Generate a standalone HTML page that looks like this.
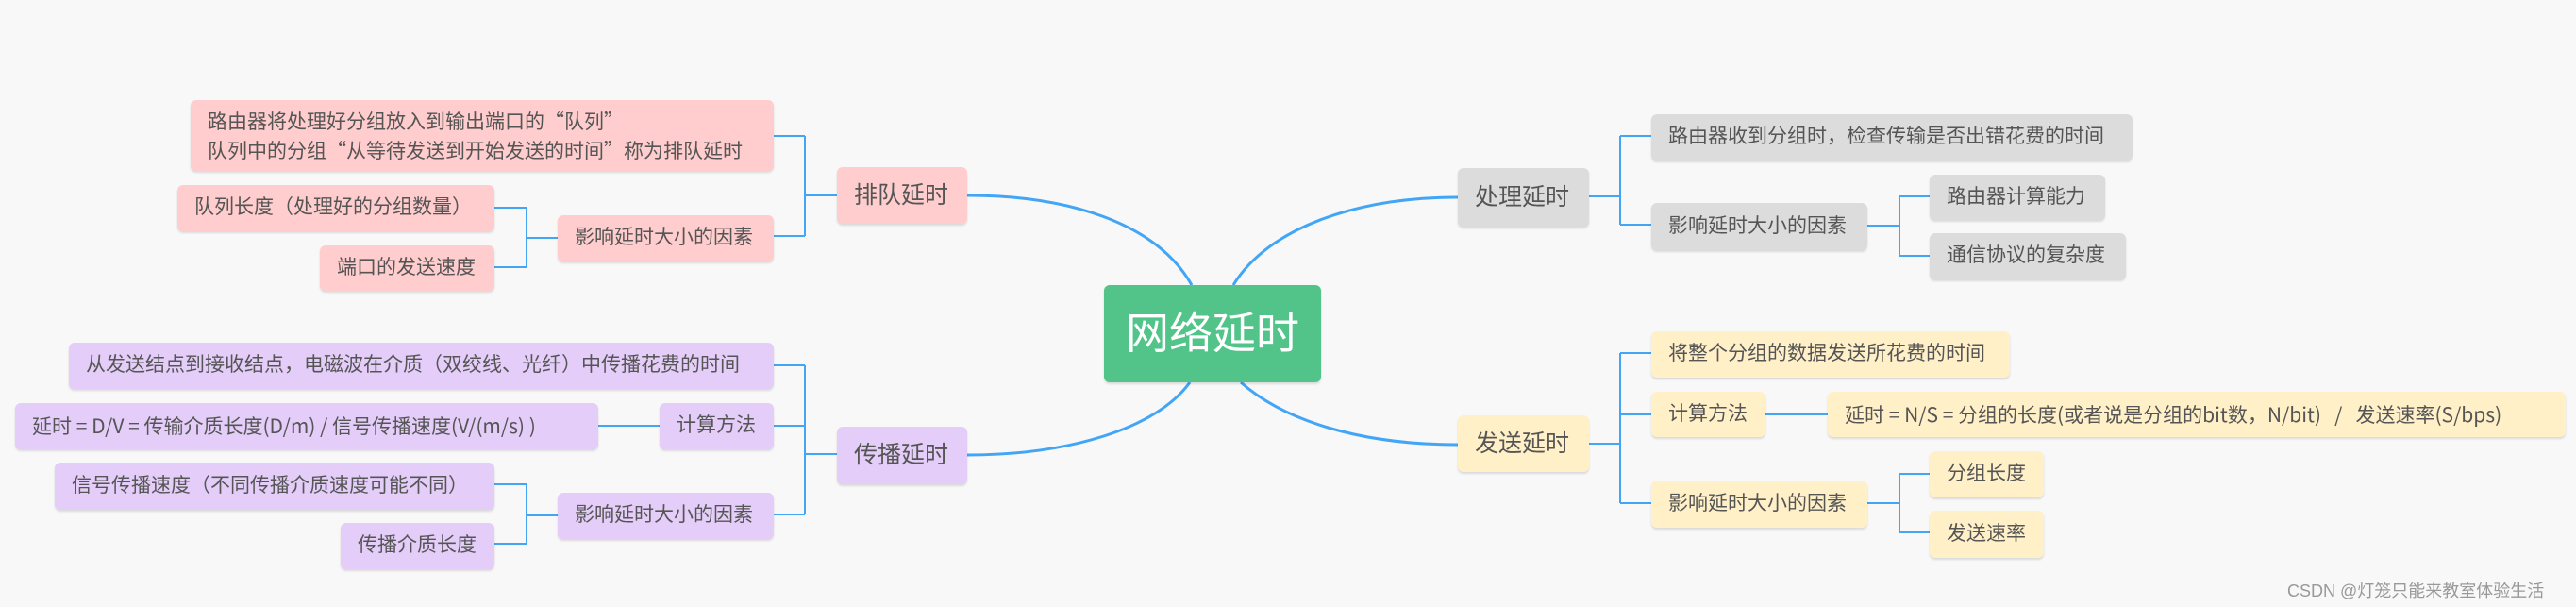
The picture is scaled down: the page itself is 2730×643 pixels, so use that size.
<!DOCTYPE html>
<html><head><meta charset="utf-8"><style>
body{margin:0;width:2730px;height:643px;background:#f8f8f8;position:relative;overflow:hidden;font-family:"Liberation Sans","Noto Sans CJK SC",sans-serif;}
.n{position:absolute;display:flex;align-items:center;justify-content:flex-start;padding-left:18px;border-radius:6px;color:#555;font-size:21px;box-shadow:0 2px 2px rgba(0,0,0,0.12);box-sizing:border-box;white-space:nowrap;line-height:1.45;}
.p{background:#ffcdcd}.u{background:#e4cdf8}.g{background:#dcdcdc}.y{background:#fff0c8}
.l2{font-size:25px}
.c{font-family:"Noto Sans CJK SC",sans-serif}
svg{position:absolute;left:0;top:0}
</style></head><body>
<svg width="2730" height="643" fill="none" stroke="#42a5f5" stroke-width="3">
<path d="M1263 302 C1225 235 1130 207 1025 207"/>
<path d="M1261 405 C1225 455 1130 482 1025 482"/>
<path d="M1307 302 C1345 240 1440 209 1545 209"/>
<path d="M1315 405 C1360 445 1440 471 1545 471"/>
<g stroke-width="2">
<path d="M887 207 H853 M853 144 V250 M853 144 H820 M853 250 H820"/>
<path d="M591 252 H558 M558 220 V283 M558 220 H524 M558 283 H524"/>
<path d="M887 481 H853 M853 387 V545 M853 387 H820 M853 451 H820 M853 545 H820"/>
<path d="M699 451 H634"/>
<path d="M591 546 H558 M558 513 V576 M558 513 H524 M558 576 H524"/>
<path d="M1684 208 H1717 M1717 144 V238 M1717 144 H1750 M1717 238 H1750"/>
<path d="M1979 239 H2013 M2013 208 V271 M2013 208 H2045 M2013 271 H2045"/>
<path d="M1684 470 H1717 M1717 374 V533 M1717 374 H1750 M1717 439 H1750 M1717 533 H1750"/>
<path d="M1871 439 H1937"/>
<path d="M1979 533 H2013 M2013 502 V564 M2013 502 H2045 M2013 564 H2045"/>
</g>
</svg>
<div class="n" style="left:1170px;top:302px;width:230px;height:103px;background:#52c48a;color:#fff;font-size:46px;justify-content:center;padding:0">网络延时</div>

<div class="n p l2" style="left:887px;top:177px;width:138px;height:60px">排队延时</div>
<div class="n p c" style="left:202px;top:106px;width:618px;height:75px">路由器将处理好分组放入到输出端口的“队列”<br>队列中的分组“从等待发送到开始发送的时间”称为排队延时</div>
<div class="n p" style="left:591px;top:228px;width:229px;height:49px">影响延时大小的因素</div>
<div class="n p" style="left:188px;top:196px;width:336px;height:49px">队列长度（处理好的分组数量）</div>
<div class="n p" style="left:339px;top:260px;width:185px;height:48px">端口的发送速度</div>

<div class="n u l2" style="left:887px;top:452px;width:138px;height:61px">传播延时</div>
<div class="n u" style="left:73px;top:363px;width:747px;height:49px">从发送结点到接收结点，电磁波在介质（双绞线、光纤）中传播花费的时间</div>
<div class="n u c" style="left:16px;top:427px;width:618px;height:49px">延时 = D/V = 传输介质长度(D/m) / 信号传播速度(V/(m/s) )</div>
<div class="n u" style="left:699px;top:427px;width:121px;height:49px">计算方法</div>
<div class="n u" style="left:591px;top:522px;width:229px;height:49px">影响延时大小的因素</div>
<div class="n u" style="left:58px;top:490px;width:466px;height:50px">信号传播速度（不同传播介质速度可能不同）</div>
<div class="n u" style="left:361px;top:554px;width:163px;height:49px">传播介质长度</div>

<div class="n g l2" style="left:1545px;top:178px;width:139px;height:62px">处理延时</div>
<div class="n g" style="left:1750px;top:121px;width:510px;height:49px">路由器收到分组时，检查传输是否出错花费的时间</div>
<div class="n g" style="left:1750px;top:215px;width:229px;height:50px">影响延时大小的因素</div>
<div class="n g" style="left:2045px;top:185px;width:186px;height:48px">路由器计算能力</div>
<div class="n g" style="left:2045px;top:247px;width:208px;height:49px">通信协议的复杂度</div>

<div class="n y l2" style="left:1545px;top:440px;width:139px;height:60px">发送延时</div>
<div class="n y" style="left:1750px;top:351px;width:380px;height:49px">将整个分组的数据发送所花费的时间</div>
<div class="n y" style="left:1750px;top:415px;width:121px;height:48px">计算方法</div>
<div class="n y c" style="left:1937px;top:415px;width:782px;height:48px">延时 = N/S = 分组的长度(或者说是分组的bit数，N/bit)&nbsp;&nbsp; /&nbsp;&nbsp; 发送速率(S/bps)</div>
<div class="n y" style="left:1750px;top:509px;width:229px;height:50px">影响延时大小的因素</div>
<div class="n y" style="left:2045px;top:478px;width:121px;height:49px">分组长度</div>
<div class="n y" style="left:2045px;top:541px;width:121px;height:50px">发送速率</div>

<div style="position:absolute;left:2424px;top:612px;font-size:18px;color:#999;white-space:nowrap">CSDN @灯笼只能来教室体验生活</div>
</body></html>
